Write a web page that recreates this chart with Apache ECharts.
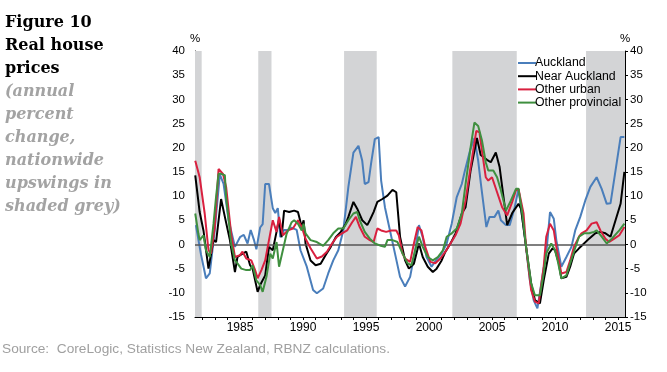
<!DOCTYPE html>
<html>
<head>
<meta charset="utf-8">
<script src="https://cdn.jsdelivr.net/npm/echarts@6/dist/echarts.min.js"></script>
<style>
html,body{margin:0;padding:0;background:#fff;}
#c{width:667px;height:372px;}
</style>
</head>
<body>
<div id="c"></div>
<script>
// ---- Data (year, annual % change) ----
const seriesNames = ['Auckland', 'Near Auckland', 'Other urban', 'Other provincial'];

const auckland = [[1981.5,4],[1981.9,-2],[1982.3,-7],[1982.6,-6],[1983.0,3],[1983.4,14.5],[1983.7,12.5],[1984.1,5],[1984.6,-0.5],[1985.0,1.5],[1985.3,2],[1985.6,0.2],[1985.85,3],[1986.1,1],[1986.3,-1],[1986.6,3.5],[1986.8,4.2],[1987.0,12.5],[1987.3,12.5],[1987.6,7.5],[1987.8,6.5],[1988.0,7.5],[1988.2,1.5],[1988.5,3],[1988.8,3],[1989.1,3.5],[1989.5,3],[1989.8,-1.2],[1990.3,-4.6],[1990.8,-9.4],[1991.1,-10.1],[1991.6,-9.1],[1992.0,-6],[1992.4,-3.3],[1992.8,-1.2],[1993.2,2.9],[1993.6,11.9],[1994.0,19],[1994.4,20.4],[1994.7,17.3],[1994.9,12.5],[1995.2,12.9],[1995.4,16.7],[1995.7,21.8],[1996.0,22.2],[1996.2,13.2],[1996.5,7.7],[1996.9,2.9],[1997.3,-1.9],[1997.7,-6.7],[1998.1,-8.7],[1998.5,-6.7],[1998.9,-1.2],[1999.2,4],[1999.5,1.5],[1999.8,-2.6],[2000.2,-4.6],[2000.55,-3.3],[2001.0,-1.9],[2001.4,0.2],[2001.8,4.3],[2002.2,9.8],[2002.6,12.5],[2002.85,15.3],[2003.25,19.4],[2003.6,22],[2003.9,17.3],[2004.15,11.8],[2004.55,3.6],[2004.8,5.7],[2005.2,5.7],[2005.5,7],[2005.7,5],[2006.1,4],[2006.4,4],[2006.8,7.7],[2007.1,11.5],[2007.6,1.6],[2008.0,-7.4],[2008.3,-11.5],[2008.6,-13.2],[2008.95,-7.4],[2009.35,-0.5],[2009.6,6.7],[2009.9,5.3],[2010.1,0.9],[2010.5,-4.6],[2010.9,-2.6],[2011.3,-0.5],[2011.6,2.9],[2012.0,5.7],[2012.4,9.1],[2012.8,11.9],[2013.3,13.9],[2013.7,11.5],[2014.1,8.4],[2014.4,8.5],[2014.8,15.3],[2015.2,22.2],[2015.5,22.2]];

const nearAuckland = [[1981.45,14.3],[1981.8,6.7],[1982.1,2.9],[1982.5,-5],[1982.9,0.9],[1983.1,0.5],[1983.5,9.4],[1983.8,5.7],[1984.2,0.9],[1984.6,-5.7],[1984.8,-2.6],[1985.2,-1.9],[1985.5,-1.5],[1985.8,-4.3],[1986.0,-5],[1986.4,-9.8],[1986.6,-8.4],[1987.0,-6.4],[1987.3,-0.5],[1987.6,-1.2],[1987.9,2.6],[1988.1,5.3],[1988.3,1.5],[1988.5,7],[1988.9,6.7],[1989.3,7],[1989.6,6.7],[1989.9,3.6],[1990.05,5],[1990.2,0.2],[1990.6,-3.3],[1991.0,-4.3],[1991.4,-4],[1991.8,-2.2],[1992.2,-0.5],[1992.6,1.5],[1993.0,2.6],[1993.4,4.3],[1993.6,5.7],[1994.0,8.8],[1994.3,7.4],[1994.7,5],[1995.1,4],[1995.3,5],[1995.6,6.7],[1995.9,8.8],[1996.3,9.4],[1996.7,10.1],[1997.1,11.3],[1997.4,10.8],[1997.7,1.6],[1998.1,-3.3],[1998.4,-5],[1998.8,-4],[1999.2,0.2],[1999.5,-2.6],[1999.9,-4.6],[2000.3,-5.7],[2000.6,-5],[2001.0,-3.3],[2001.3,-1.5],[2001.7,0.2],[2002.1,2.2],[2002.6,6.4],[2002.9,7.7],[2003.3,15.3],[2003.8,22],[2004.1,18.5],[2004.6,17.5],[2004.9,17],[2005.3,19],[2005.6,16],[2005.9,10],[2006.2,4],[2006.6,6.5],[2007.1,8.4],[2007.3,7.4],[2007.7,-0.5],[2008.1,-8],[2008.4,-11.5],[2008.8,-12.2],[2009.1,-7.4],[2009.5,-1.9],[2009.8,-0.8],[2010.0,-1.2],[2010.3,-3.9],[2010.5,-7],[2010.9,-6.7],[2011.2,-4.6],[2011.5,-1.9],[2011.9,-0.8],[2012.3,0.2],[2012.7,1.2],[2013.2,2.3],[2013.6,2.6],[2014.0,2.3],[2014.4,1.6],[2014.8,5],[2015.2,8.4],[2015.5,15]];

const otherUrban = [[1981.45,17.3],[1981.8,13.9],[1982.2,6.4],[1982.5,-1.2],[1982.7,-1.9],[1983.0,3.6],[1983.3,15.6],[1983.65,14.6],[1983.9,11.9],[1984.3,2.2],[1984.6,-2.6],[1985.0,-2.2],[1985.2,-1.5],[1985.5,-2.9],[1985.9,-3.3],[1986.2,-5.3],[1986.4,-7],[1986.7,-5.3],[1987.0,-3.3],[1987.3,0.9],[1987.6,5],[1987.9,2.6],[1988.1,5.7],[1988.4,1.9],[1988.8,2.9],[1989.2,3.3],[1989.6,5],[1989.9,3.6],[1990.2,1.2],[1990.6,-0.8],[1991.1,-2.9],[1991.5,-2.5],[1991.9,-1.5],[1992.3,0.2],[1992.7,1.6],[1993.1,2.3],[1993.5,2.9],[1993.9,4.6],[1994.2,5.7],[1994.5,3.6],[1994.9,1.6],[1995.3,0.9],[1995.6,0.5],[1995.9,3.3],[1996.2,2.9],[1996.6,2.6],[1997.0,2.9],[1997.4,2.9],[1997.6,1.9],[1997.9,-1.9],[1998.1,-2.9],[1998.5,-3.6],[1998.8,0.2],[1999.1,3.6],[1999.4,2.9],[1999.7,-0.5],[2000.1,-3.6],[2000.5,-3.9],[2000.9,-2.9],[2001.3,-1.5],[2001.7,0.2],[2002.1,1.9],[2002.5,4.3],[2002.9,9.1],[2003.3,16],[2003.75,23.5],[2004.0,23.2],[2004.2,19.4],[2004.5,13.9],[2004.7,13.2],[2005.0,13.9],[2005.4,10.8],[2005.8,7.7],[2006.2,6],[2006.6,8.8],[2006.9,11.2],[2007.1,11.5],[2007.5,6.4],[2007.7,-0.5],[2008.1,-9.4],[2008.4,-11.8],[2008.7,-12.2],[2009.1,-4.6],[2009.3,1.6],[2009.6,4.3],[2009.9,2.9],[2010.1,-0.5],[2010.5,-6],[2010.9,-5.7],[2011.2,-3.3],[2011.5,-0.5],[2011.9,1.6],[2012.1,2.3],[2012.5,2.9],[2012.9,4.3],[2013.3,4.6],[2013.6,2.9],[2014.0,1.2],[2014.3,0.5],[2014.7,1.2],[2015.1,1.9],[2015.5,3.6]];

const otherProvincial = [[1981.45,6.4],[1981.7,2.2],[1981.8,0.9],[1982.1,1.9],[1982.3,-1.2],[1982.6,-2.6],[1982.9,4.3],[1983.1,9.8],[1983.3,14.6],[1983.5,14.6],[1983.8,14.3],[1983.9,9.8],[1984.3,0.2],[1984.6,-3.3],[1984.8,-3.9],[1985.1,-5],[1985.5,-5.3],[1985.8,-5.3],[1986.0,-4.3],[1986.3,-7.4],[1986.6,-8.4],[1986.8,-9.8],[1987.1,-6.7],[1987.4,-1.9],[1987.6,-2.9],[1987.9,0.5],[1988.1,-4.6],[1988.4,-1.2],[1988.7,2.2],[1989.1,4.6],[1989.3,5],[1989.6,4.3],[1989.9,2.9],[1990.05,4.3],[1990.2,2.3],[1990.6,0.9],[1991.1,0.5],[1991.6,-0.3],[1992.0,0.9],[1992.4,2.3],[1992.8,3.3],[1993.2,3.3],[1993.6,5],[1994.0,6.4],[1994.3,6.7],[1994.5,5],[1994.9,2.6],[1995.3,1.2],[1995.7,0.2],[1996.1,-0.2],[1996.5,-0.5],[1996.7,0.9],[1997.1,0.9],[1997.5,0.5],[1997.9,-1.9],[1998.3,-3.9],[1998.6,-4.3],[1998.9,-1.2],[1999.2,1.6],[1999.5,-0.5],[1999.9,-2.6],[2000.3,-3.3],[2000.7,-2.6],[2001.1,-1.2],[2001.4,1.6],[2001.8,2.3],[2002.2,3.3],[2002.6,6.4],[2002.9,12.5],[2003.3,20.1],[2003.6,25.2],[2003.9,24.5],[2004.2,21.5],[2004.5,17],[2004.7,15.3],[2005.1,15.3],[2005.4,13.9],[2005.7,11.2],[2006.1,7],[2006.5,9.1],[2006.9,11.5],[2007.1,11.5],[2007.4,6.4],[2007.7,-0.5],[2008.1,-8],[2008.4,-10.5],[2008.8,-10.5],[2009.1,-6],[2009.3,-1.9],[2009.7,0.2],[2010.0,-1.2],[2010.2,-3.3],[2010.5,-7],[2010.9,-6.4],[2011.2,-3.9],[2011.5,-1.5],[2011.9,1.6],[2012.3,2.3],[2012.7,2.3],[2013.1,2.6],[2013.3,2.9],[2013.7,1.6],[2014.1,0.2],[2014.5,1.2],[2015.1,2.9],[2015.5,4.3]];

// Nationwide upswing periods (shaded grey)
const upswings = [[1981.43,1981.96],[1986.45,1987.5],[1993.26,1995.85],[2001.85,2006.96],[2012.46,2015.55]];

// Axis tick labels
const xLabels = [1985, 1990, 1995, 2000, 2005, 2010, 2015];
const xTicks = [1982,1983,1984,1985,1986,1987,1988,1989,1990,1991,1992,1993,1994,1995,1996,1997,1998,1999,2000,2001,2002,2003,2004,2005,2006,2007,2008,2009,2010,2011,2012,2013,2014,2015];
const yMin = -15, yMax = 40, yStep = 5;

const colors = ['#4a7ebb', '#000000', '#d9203f', '#3f8f3f'];

const chart = echarts.init(document.getElementById('c'), null, {renderer: 'canvas'});

const FONT = 'Liberation Sans, Arial, sans-serif';
const yAxisCommon = {
  type: 'value', min: yMin, max: yMax, interval: yStep,
  splitLine: {show: false},
  axisLine: {show: true, lineStyle: {color: '#000', width: 1}},
  axisTick: {show: true, length: 3, lineStyle: {color: '#000'}},
  axisLabel: {color: '#000', fontSize: 11.5, fontFamily: FONT},
  name: '%', nameLocation: 'end', nameGap: 6,
  nameTextStyle: {color: '#000', fontSize: 11.5, fontFamily: FONT, align: 'center', verticalAlign: 'bottom'}
};

const dataSets = [auckland, nearAuckland, otherUrban, otherProvincial];

const series = dataSets.map((d, i) => ({
  name: seriesNames[i],
  type: 'line',
  data: d,
  showSymbol: false,
  symbol: 'none',
  smooth: false,
  lineStyle: {width: 2, color: colors[i]},
  itemStyle: {color: colors[i]},
  z: 3 + i
}));

series[0].markArea = {
  silent: true,
  itemStyle: {color: '#d3d4d6'},
  data: upswings.map(p => [{xAxis: p[0]}, {xAxis: p[1]}])
};
series[0].markLine = {
  silent: true, symbol: 'none', label: {show: false},
  lineStyle: {color: '#555', width: 1.5, type: 'solid'},
  data: [{yAxis: 0}]
};

chart.setOption({
  backgroundColor: '#fff',
  animation: false,
  color: colors,
  grid: {left: 195, right: 42, top: 51, bottom: 55, containLabel: false},
  legend: {
    data: seriesNames,
    orient: 'vertical',
    left: 513, top: 52,
    itemWidth: 18, itemHeight: 2, itemGap: 1.2,
    icon: 'rect',
    textStyle: {color: '#000', fontSize: 12.3, fontFamily: FONT, padding: [0,0,0,-6]}
  },
  xAxis: {
    type: 'value', min: 1981.43, max: 2015.55,
    splitLine: {show: false},
    axisLine: {show: true, onZero: false, lineStyle: {color: '#000', width: 1}},
    axisTick: {show: true, length: 3, customValues: xTicks, lineStyle: {color: '#000'}},
    axisLabel: {color: '#000', fontSize: 12, margin: 5, fontFamily: FONT, customValues: xLabels, formatter: v => String(Math.round(v))}
  },
  yAxis: [
    Object.assign({}, yAxisCommon, {position: 'left', axisTick: {show: true, inside: true, length: 3, lineStyle: {color: '#000'}}, axisLabel: Object.assign({}, yAxisCommon.axisLabel, {margin: 10})}),
    Object.assign({}, yAxisCommon, {position: 'right', axisLabel: Object.assign({}, yAxisCommon.axisLabel, {margin: 5})})
  ],
  graphic: [
    {type: 'text', left: 5, top: 11, style: {text: 'Figure 10\nReal house\nprices', fill: '#000', font: 'bold 16px "DejaVu Serif", serif', lineHeight: 23}},
    {type: 'text', left: 5, top: 80, style: {text: '(annual\npercent\nchange,\nnationwide\nupswings in\nshaded grey)', fill: '#a3a3a3', font: 'italic bold 16px "DejaVu Serif", serif', lineHeight: 23}},
    {type: 'text', left: 2, top: 342, style: {text: 'Source:  CoreLogic, Statistics New Zealand, RBNZ calculations.', fill: '#a0a0a0', font: '13.7px "Liberation Sans", Arial, sans-serif'}}
  ],
  series: series
});
</script>
</body>
</html>
